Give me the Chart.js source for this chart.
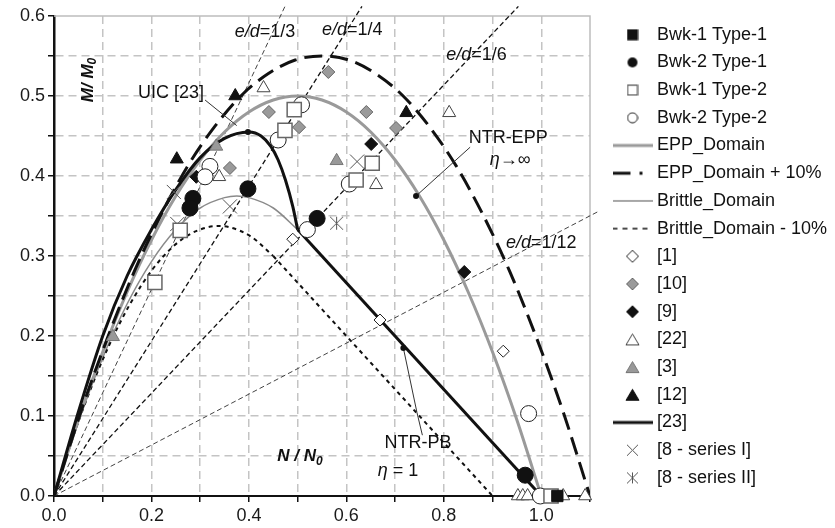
<!DOCTYPE html>
<html>
<head>
<meta charset="utf-8">
<title>Interaction domains M/M0 - N/N0</title>
<script src="https://cdn.jsdelivr.net/npm/chart.js@4.4.1/dist/chart.umd.min.js"></script>
<style>
  html, body { margin: 0; padding: 0; background: #fff; }
  canvas { display: block; }
</style>
</head>
<body>
<canvas id="chart" width="835" height="528"></canvas>
<script>
const FONT = '"Liberation Sans", Arial, Helvetica, sans-serif';

// test results, [N/N0, M/M0]
const bwk1Type1 = [[1.033, 0]];
const bwk2Type1 = [[0.285, 0.372], [0.279, 0.36], [0.398, 0.384], [0.54, 0.347], [0.967, 0.026]];
const bwk1Type2 = [[0.207, 0.267], [0.259, 0.332], [0.493, 0.483], [0.474, 0.457], [0.653, 0.416], [0.62, 0.395], [1.02, 0]];
const bwk2Type2 = [[0.32, 0.412], [0.31, 0.399], [0.46, 0.445], [0.508, 0.489], [0.606, 0.39], [0.52, 0.333], [0.974, 0.103], [0.998, 0]];
const ref1 = [[0.49, 0.321], [0.669, 0.22], [0.922, 0.181]];
const ref10 = [[0.361, 0.41], [0.441, 0.48], [0.503, 0.461], [0.563, 0.53], [0.641, 0.48], [0.702, 0.46]];
const ref9 = [[0.292, 0.399], [0.651, 0.44], [0.842, 0.28]];
const ref22 = [[0.43, 0.51], [0.339, 0.399], [0.661, 0.389], [0.811, 0.479], [0.952, 0], [0.962, 0], [0.972, 0], [1.045, 0], [1.09, 0]];
const ref3 = [[0.121, 0.199], [0.333, 0.437], [0.58, 0.419]];
const ref12 = [[0.372, 0.5], [0.252, 0.421], [0.723, 0.479]];
const ref8s1 = [[0.246, 0.38], [0.253, 0.34], [0.361, 0.362], [0.622, 0.418]];
const ref8s2 = [[0.58, 0.341]];

// domains (curved branch + straight branch where the domain has a corner)
const eppDomain = [[0, 0], [0.05, 0.095], [0.1, 0.18], [0.15, 0.255], [0.2, 0.32], [0.25, 0.375], [0.3, 0.42],
  [0.35, 0.455], [0.4, 0.48], [0.45, 0.495], [0.5, 0.5], [0.55, 0.495], [0.6, 0.48], [0.65, 0.455], [0.7, 0.42],
  [0.75, 0.375], [0.8, 0.32], [0.85, 0.255], [0.9, 0.18], [0.95, 0.095], [1.0, 0]];
const eppPlus10 = [[0, 0], [0.055, 0.105], [0.11, 0.198], [0.165, 0.281], [0.22, 0.352], [0.275, 0.413], [0.33, 0.462],
  [0.385, 0.501], [0.44, 0.528], [0.495, 0.545], [0.55, 0.55], [0.605, 0.545], [0.66, 0.528], [0.715, 0.501],
  [0.77, 0.462], [0.825, 0.413], [0.88, 0.352], [0.935, 0.281], [0.99, 0.198], [1.045, 0.105], [1.1, 0]];
const brittleCurve = [[0, 0], [0.05, 0.093], [0.1, 0.173], [0.15, 0.24], [0.2, 0.293], [0.25, 0.333], [0.3, 0.36],
  [0.35, 0.373], [0.375, 0.375], [0.4, 0.373], [0.45, 0.36], [0.5, 0.333]];
const brittleLinear = [[0.5, 0.333], [1.0, 0]];
const brittleM10Curve = [[0, 0], [0.045, 0.084], [0.09, 0.156], [0.135, 0.216], [0.18, 0.264], [0.225, 0.3], [0.27, 0.324],
  [0.315, 0.336], [0.3375, 0.3375], [0.36, 0.336], [0.405, 0.324], [0.45, 0.3]];
const brittleM10Linear = [[0.45, 0.3], [0.9, 0]];
const uic23Curve = [[0, 0], [0.05, 0.105], [0.1, 0.2], [0.15, 0.275], [0.2, 0.333], [0.25, 0.383], [0.3, 0.423],
  [0.35, 0.447], [0.4, 0.455], [0.425, 0.45], [0.445, 0.437], [0.46, 0.42], [0.475, 0.395], [0.49, 0.362],
  [0.5, 0.333]];
const uic23Linear = [[0.5, 0.333], [1.0, 0]];

// eccentricity rays e/d
const ray1_3 = [[0, 0], [0.474, 0.612]];
const ray1_4 = [[0, 0], [0.632, 0.612]];
const ray1_6 = [[0, 0], [0.953, 0.612]];
const ray1_12 = [[0, 0], [1.115, 0.355]];

// callouts
const calloutDots = [[0.398, 0.455], [0.743, 0.375], [0.717, 0.185]];
const leaderUic = [[0.31, 0.495], [0.375, 0.463]];
const leaderEpp = [[0.854, 0.436], [0.743, 0.375]];
const leaderPb = [[0.717, 0.185], [0.745, 0.104], [0.756, 0.076]];

const notes = [
  { x: 0.24, y: 0.504, parts: [['UIC [23]', '']] },
  { x: 0.932, y: 0.4475, parts: [['NTR-EPP', '']] },
  { x: 0.936, y: 0.42, parts: [['\u03b7', 'italic'], ['\u2192\u221e', '']] },
  { x: 0.747, y: 0.066, parts: [['NTR-PB', '']] },
  { x: 0.706, y: 0.031, parts: [['\u03b7', 'italic'], [' = 1', '']] },
  { x: 0.433, y: 0.58, parts: [['e/d', 'italic'], ['=1/3', '']] },
  { x: 0.612, y: 0.5825, parts: [['e/d', 'italic'], ['=1/4', '']] },
  { x: 0.867, y: 0.551, parts: [['e/d', 'italic'], ['=1/6', '']] },
  { x: 1.0, y: 0.316, parts: [['e/d', 'italic'], ['=1/12', '']] }
];

const pts = a => a.map(([x, y]) => ({ x, y }));
const isStep = (v, step) => Math.abs(v / step - Math.round(v / step)) < 1e-6;

function makeIcon(w, h, paint) {
  const c = document.createElement('canvas');
  c.width = w; c.height = h;
  paint(c.getContext('2d'), w, h);
  return c;
}
function squareIcon(fill, stroke) {
  return makeIcon(12, 12, g => {
    g.fillStyle = fill; g.fillRect(0.5, 0.5, 11, 11);
    if (stroke) { g.strokeStyle = stroke; g.lineWidth = 1.2; g.strokeRect(1.1, 1.1, 9.8, 9.8); }
  });
}
function circleIcon(fill, stroke) {
  return makeIcon(12, 12, g => {
    g.beginPath(); g.arc(6, 6, 5, 0, Math.PI * 2);
    g.fillStyle = fill; g.fill();
    if (stroke) { g.strokeStyle = stroke; g.lineWidth = 1; g.stroke(); }
  });
}
function diamondIcon(fill, stroke) {
  return makeIcon(14, 14, g => {
    g.beginPath(); g.moveTo(7, 1); g.lineTo(13, 7); g.lineTo(7, 13); g.lineTo(1, 7); g.closePath();
    g.fillStyle = fill; g.fill(); g.strokeStyle = stroke; g.lineWidth = 1; g.stroke();
  });
}
function triangleIcon(fill, stroke) {
  return makeIcon(15, 14, g => {
    g.beginPath(); g.moveTo(7.5, 1.5); g.lineTo(14, 12.5); g.lineTo(1, 12.5); g.closePath();
    g.fillStyle = fill; g.fill(); g.strokeStyle = stroke; g.lineWidth = 1; g.stroke();
  });
}
function crossIcon(size, stroke, bar) {
  return makeIcon(size, size, g => {
    const a = 1, b = size - 1;
    g.strokeStyle = stroke; g.lineWidth = 1;
    g.beginPath(); g.moveTo(a, a); g.lineTo(b, b); g.moveTo(b, a); g.lineTo(a, b);
    if (bar) { g.moveTo(size / 2, a); g.lineTo(size / 2, b); }
    g.stroke();
  });
}
function lineIcon(color, width, dash) {
  return makeIcon(40, 8, g => {
    g.strokeStyle = color; g.lineWidth = width; g.setLineDash(dash || []);
    g.beginPath(); g.moveTo(0, 4); g.lineTo(40, 4); g.stroke();
  });
}

const starMark = crossIcon(15, '#555', true);

const marks = (label, data, style, radius, fill, stroke, width, legendIcon) => ({
  label, data: pts(data), pointStyle: style, pointRadius: radius, pointHoverRadius: radius,
  backgroundColor: fill, borderColor: stroke, borderWidth: width, showLine: false, clip: 14, order: 1, legendIcon
});
const curve = (label, data, color, width, dash, order, legendIcon) => ({
  label, data: pts(data), showLine: true, pointRadius: 0, borderColor: color, borderWidth: width,
  borderDash: dash, cubicInterpolationMode: 'monotone', fill: false, order, legendIcon: legendIcon || null
});
const straight = (label, data, color, width, dash, order) => ({
  label, data: pts(data), showLine: true, pointRadius: 0, borderColor: color, borderWidth: width,
  borderDash: dash, tension: 0, fill: false, order, clip: { left: 0, top: 12, right: 12, bottom: 0 }, legendIcon: null
});

const datasets = [
  marks('Bwk-1 Type-1', bwk1Type1, 'rect', 8, '#111', '#111', 1, squareIcon('#111')),
  marks('Bwk-2 Type-1', bwk2Type1, 'circle', 8, '#111', '#111', 1, circleIcon('#111')),
  marks('Bwk-1 Type-2', bwk1Type2, 'rect', 10, '#fff', '#666', 1.5, squareIcon('#fff', '#555')),
  marks('Bwk-2 Type-2', bwk2Type2, 'circle', 8, '#fff', '#222', 1, circleIcon('#fff', '#222')),
  curve('EPP_Domain', eppDomain, '#9a9a9a', 3, [], 6, lineIcon('#9a9a9a', 3)),
  curve('EPP_Domain + 10%', eppPlus10, '#111', 3, [18, 8], 5, lineIcon('#111', 3, [18, 9, 3, 20])),
  curve('Brittle_Domain', brittleCurve, '#8a8a8a', 1.5, [], 8, lineIcon('#8a8a8a', 1.5)),
  curve('Brittle_Domain - 10%', brittleM10Curve, '#111', 2, [4, 4], 7, lineIcon('#111', 1.5, [5, 5])),
  marks('[1]', ref1, 'rectRot', 6, '#fff', '#222', 1, diamondIcon('#fff', '#222')),
  marks('[10]', ref10, 'rectRot', 6.5, '#9a9a9a', '#666', 1, diamondIcon('#9a9a9a', '#666')),
  marks('[9]', ref9, 'rectRot', 6.5, '#111', '#111', 1, diamondIcon('#111', '#111')),
  marks('[22]', ref22, 'triangle', 7.5, '#fff', '#444', 1, triangleIcon('#fff', '#444')),
  marks('[3]', ref3, 'triangle', 7.5, '#999', '#777', 1, triangleIcon('#999', '#777')),
  marks('[12]', ref12, 'triangle', 7.5, '#111', '#111', 1, triangleIcon('#111', '#111')),
  curve('[23]', uic23Curve, '#111', 3, [], 4, lineIcon('#111', 3)),
  marks('[8 - series I]', ref8s1, 'crossRot', 10, 'rgba(0,0,0,0)', '#555', 1, crossIcon(13, '#555', false)),
  marks('[8 - series II]', ref8s2, starMark, 8, 'rgba(0,0,0,0)', '#555', 1, crossIcon(13, '#555', true)),
  straight('Brittle_Domain linear', brittleLinear, '#8a8a8a', 1.5, [], 8),
  straight('Brittle_Domain - 10% linear', brittleM10Linear, '#111', 2, [4, 4], 7),
  straight('[23] linear', uic23Linear, '#111', 3, [], 4),
  straight('e/d=1/3', ray1_3, '#444', 1, [5, 3], 9),
  straight('e/d=1/4', ray1_4, '#111', 1.3, [5, 3], 9),
  straight('e/d=1/6', ray1_6, '#111', 1.3, [5, 3], 9),
  straight('e/d=1/12', ray1_12, '#444', 1, [5, 3], 9),
  straight('leader UIC', leaderUic, '#333', 1, [], 3),
  straight('leader EPP', leaderEpp, '#333', 1, [], 3),
  straight('leader PB', leaderPb, '#333', 1, [], 3),
  { label: 'callouts', data: pts(calloutDots), pointRadius: 3, backgroundColor: '#111', borderColor: '#111',
    borderWidth: 0, showLine: false, order: 2, legendIcon: null }
];

// white page, frame on top/right, notes and axis names
const plotDecor = {
  id: 'plotDecor',
  beforeInit(chart) {
    const fit = chart.legend.fit;
    chart.legend.fit = function () { fit.call(this); this.width = 245; };
  },
  afterLayout(chart) {
    chart.legend.left += 17.3;
    chart.legend.right += 17.3;
  },
  beforeDraw(chart) {
    const ctx = chart.ctx;
    ctx.save();
    ctx.fillStyle = '#fff';
    ctx.fillRect(0, 0, chart.width, chart.height);
    ctx.restore();
  },
  beforeDatasetsDraw(chart) {
    const { ctx, chartArea: a } = chart;
    ctx.save();
    ctx.strokeStyle = '#bdbdbd';
    ctx.lineWidth = 1.5;
    ctx.beginPath();
    ctx.moveTo(a.left, a.top);
    ctx.lineTo(a.right, a.top);
    ctx.lineTo(a.right, a.bottom);
    ctx.stroke();
    ctx.restore();
  },
  afterDatasetsDraw(chart) {
    const { ctx, scales: { x, y } } = chart;
    ctx.save();
    ctx.fillStyle = '#111';
    ctx.textBaseline = 'middle';
    notes.forEach(n => {
      const widths = n.parts.map(([t, s]) => { ctx.font = `${s} 18px ${FONT}`; return ctx.measureText(t).width; });
      let px = x.getPixelForValue(n.x) - widths.reduce((p, w) => p + w, 0) / 2;
      const py = y.getPixelForValue(n.y);
      n.parts.forEach(([t, s], i) => {
        ctx.font = `${s} 18px ${FONT}`;
        ctx.fillText(t, px, py);
        px += widths[i];
      });
    });

    const axisName = (main, cx, cy, rot) => {
      ctx.save();
      ctx.translate(cx, cy);
      ctx.rotate(rot);
      ctx.font = `italic bold 17px ${FONT}`;
      const w1 = ctx.measureText(main).width;
      ctx.font = `italic bold 12px ${FONT}`;
      const w2 = ctx.measureText('0').width;
      const sx = -(w1 + w2) / 2;
      ctx.font = `italic bold 17px ${FONT}`;
      ctx.fillText(main, sx, 0);
      ctx.font = `italic bold 12px ${FONT}`;
      ctx.fillText('0', sx + w1, 5);
      ctx.restore();
    };
    axisName('M/ M', x.getPixelForValue(0.07), y.getPixelForValue(0.52), -Math.PI / 2);
    axisName('N / N', x.getPixelForValue(0.505), y.getPixelForValue(0.049), 0);
    ctx.restore();
  }
};

const tickFont = { family: FONT, size: 18 };

new Chart(document.getElementById('chart'), {
  type: 'scatter',
  data: { datasets },
  options: {
    responsive: false,
    animation: false,
    devicePixelRatio: 1,
    events: [],
    layout: { padding: { top: 16, left: 0, right: 0, bottom: 0 } },
    scales: {
      x: {
        type: 'linear', min: 0, max: 1.1,
        afterFit: s => { s.height = 32; },
        ticks: {
          stepSize: 0.1, autoSkip: false, maxRotation: 0, padding: 3, color: '#1a1a1a', font: tickFont,
          callback: v => (isStep(v, 0.2) && v < 1.05 ? v.toFixed(1) : '')
        },
        grid: {
          color: c => (c.tick && (c.tick.value > 1.05 || c.tick.value < 0.01) ? 'rgba(0,0,0,0)' : '#c4c4c4'),
          lineWidth: 1.5, tickLength: 6, tickColor: '#111', tickWidth: 1.5
        },
        border: { color: '#111', width: 2, dash: [8, 5] }
      },
      y: {
        type: 'linear', min: 0, max: 0.6,
        afterFit: s => { s.width = 54; },
        ticks: {
          stepSize: 0.05, autoSkip: false, padding: 3, color: '#1a1a1a', font: tickFont,
          callback: v => (isStep(v, 0.1) ? v.toFixed(1) : '')
        },
        grid: {
          color: c => (c.tick && (c.tick.value > 0.59 || c.tick.value < 0.01) ? 'rgba(0,0,0,0)' : '#c4c4c4'),
          lineWidth: 1.5, tickLength: 6, tickColor: '#111', tickWidth: 1.5
        },
        border: { color: '#111', width: 2.5, dash: [8, 5] }
      }
    },
    plugins: {
      tooltip: { enabled: false },
      legend: {
        position: 'right',
        align: 'start',
        labels: {
          usePointStyle: true,
          pointStyleWidth: 31,
          padding: 9.7,
          color: '#111',
          font: { family: FONT, size: 18 },
          generateLabels(chart) {
            return Chart.defaults.plugins.legend.labels.generateLabels(chart)
              .filter(item => chart.data.datasets[item.datasetIndex].legendIcon)
              .sort((a, b) => a.datasetIndex - b.datasetIndex)
              .map(item => Object.assign(item, {
                pointStyle: chart.data.datasets[item.datasetIndex].legendIcon,
                fontColor: '#111'
              }));
          }
        }
      }
    }
  },
  plugins: [plotDecor]
});
</script>
</body>
</html>
